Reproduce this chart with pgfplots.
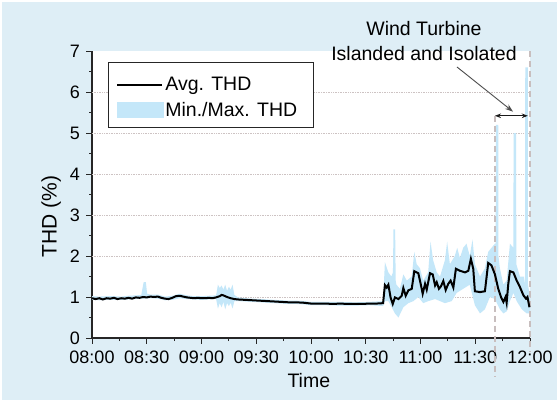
\documentclass[border=0pt]{standalone}
\usepackage{fontspec}
\setmainfont{Liberation Sans}
\usepackage{pgfplots}
\pgfplotsset{compat=1.18}
\usetikzlibrary{arrows.meta}
\definecolor{bgblue}{RGB}{222,238,246}
\definecolor{bandblue}{RGB}{196,231,249}
\definecolor{gridc}{RGB}{205,195,195}
\definecolor{dashc}{RGB}{200,190,190}
\newcommand\tickfont{\fontsize{18bp}{20bp}\selectfont}
\newcommand\labfont{\fontsize{19.5bp}{22bp}\selectfont}

% band polygon: max envelope (increasing t), then min envelope (decreasing t)
\pgfplotstableread{
t v
0 1.02
4 1.01
8 1.02
12 1.02
16 1.01
20 1.03
24 1.04
27 1.05
28.3 1.36
29.5 1.36
30.2 1.08
32 1.06
36 1.06
40 1.01
44 1.03
48 1.08
52 1.04
56 1.02
60 1.02
64 1.03
68 1.04
69 1.30
70 1.22
71 1.28
72 1.18
73 1.30
74 1.15
75 1.25
76 1.18
77 1.30
78 1.05
80 0.99
84 0.97
88 0.96
92 0.95
96 0.94
100 0.93
104 0.92
108 0.91
112 0.91
116 0.90
120 0.88
128 0.88
136 0.88
144 0.87
152 0.88
159.5 0.90
160.5 1.85
162.4 1.60
164 1.50
164.9 1.60
165.2 2.65
166.1 2.65
166.4 1.40
166.8 1.30
168.7 1.20
170.6 1.55
172.5 1.40
175.2 1.50
176.6 2.10
177.9 1.80
179.7 1.70
181.5 1.40
184.2 1.60
185.5 2.35
186.9 1.90
188.9 1.60
190.7 1.50
193.4 1.90
194.6 2.35
196.1 1.80
198.8 2.00
200.1 2.20
201.6 1.95
203.4 2.20
205.2 2.30
207.0 2.00
208.5 2.40
209.8 1.80
212.6 1.50
215.3 1.70
217.1 2.10
218.9 2.20
220.8 2.30
221.2 2.30
221.3 5.20
222.6 5.20
222.7 2.00
223.5 1.70
225.4 1.30
227.2 1.40
229.0 2.30
230.9 2.20
231.0 5.00
232.4 5.00
232.5 1.80
234.5 1.50
236.7 1.50
237.3 1.30
237.4 6.60
238.8 6.60
238.9 1.30
240 1.00
240 0.60
238.2 0.60
235.5 0.70
232.7 0.90
230.9 1.10
229.0 0.90
227.2 0.65
225.4 0.60
223.5 0.70
220.8 0.95
218.0 1.00
215.3 0.70
212.6 0.60
209.8 0.80
207.0 1.30
203.4 1.20
199.8 1.10
197.1 0.90
193.4 0.85
190.7 0.90
188.0 0.95
184.3 0.90
181.5 0.85
178.8 1.00
176.1 0.90
173.3 0.85
170.6 0.75
167.9 0.50
166.0 0.60
164.2 0.75
162.4 0.90
160.5 0.90
159.5 0.78
152 0.80
144 0.79
136 0.79
128 0.80
120 0.80
116 0.82
112 0.83
108 0.83
104 0.84
100 0.85
96 0.86
92 0.87
88 0.88
84 0.89
80 0.90
78 0.90
77 0.72
76 0.86
75 0.78
74 0.85
73 0.70
72 0.88
71 0.75
70 0.85
69 0.72
68 0.95
64 0.94
60 0.93
56 0.94
52 0.95
48 0.97
44 0.93
40 0.92
36 0.96
32 0.97
28 0.96
24 0.95
20 0.94
16 0.93
12 0.93
8 0.93
4 0.92
0 0.93
}\banddata

\pgfplotstableread{
t v
0 0.97
2 0.95
4 0.97
6 0.94
8 0.97
10 0.96
12 0.98
14 0.95
16 0.97
18 0.96
20 0.98
22 0.96
24 0.99
26 0.98
28 1.00
30 0.99
32 1.01
34 1.00
36 1.01
38 0.98
40 0.96
42 0.95
44 0.98
46 1.02
48 1.03
50 1.01
52 0.99
54 0.98
56 0.97
58 0.98
60 0.97
62 0.97
64 0.98
66 0.97
68 0.99
70 1.02
71 1.05
72 1.04
74 1.00
76 0.97
78 0.95
80 0.94
84 0.93
88 0.92
92 0.91
96 0.90
100 0.89
104 0.88
108 0.87
112 0.87
116 0.86
120 0.84
124 0.84
128 0.84
132 0.83
136 0.84
140 0.83
144 0.83
148 0.83
152 0.84
156 0.84
159.5 0.85
160.5 1.29
161.5 1.23
162.4 1.30
163.6 0.99
164.8 0.83
166.0 0.99
167.9 0.95
169.7 1.03
170.6 1.22
171.9 1.03
173.3 1.16
175.2 1.20
176.6 1.63
178.8 1.58
180.1 1.32
181.2 1.08
182.5 1.32
183.4 1.18
185.2 1.58
186.7 1.55
188.0 1.28
188.9 1.36
190.1 1.20
191.2 1.26
192.5 1.39
193.8 1.17
195.2 1.32
196.5 1.40
198.0 1.23
199.4 1.69
201.6 1.64
204.4 1.60
206.2 1.64
207.6 1.93
208.9 1.69
209.8 1.14
212.6 1.12
215.3 1.14
217.1 1.83
218.9 1.77
220.8 1.55
222.6 1.20
224.1 1.00
225.4 0.88
226.6 1.00
227.2 0.86
228.1 1.32
229.0 1.63
230.9 1.60
232.7 1.40
234.5 1.24
236.4 1.04
237.8 0.96
238.6 1.00
239.7 0.75
}\avgdata

\begin{document}
\begin{tikzpicture}
\fill[white] (0,0) rectangle (557bp,400bp);
\fill[bgblue] (2bp,0) rectangle (557bp,398bp);
\begin{axis}[
  at={(92bp,62bp)}, anchor=south west,
  scale only axis, width=438bp, height=287bp,
  xmin=0, xmax=240, ymin=0, ymax=7,
  axis x line*=bottom, axis y line*=left,
  axis line style={line width=1.1bp, black!85},
  axis background/.style={fill=white},
  xtick={0,30,...,240},
  xticklabels={08:00,08:30,09:00,09:30,10:00,10:30,11:00,11:30,12:00},
  minor xtick={15,45,...,225},
  ytick={0,1,...,7},
  minor ytick={0.5,1.5,...,6.5},
  tick align=outside,
  major tick length=5.5bp, minor tick length=3bp,
  every tick/.style={black!85, line width=1bp},
  tick label style={font=\tickfont},
  /pgf/number format/assume math mode=true,
  xticklabel style={anchor=north, inner sep=0bp, yshift=-7.5bp},
  yticklabel style={anchor=east, inner sep=0bp, xshift=-6.5bp},
  xlabel={Time}, ylabel={THD (\%)},
  xlabel style={font=\labfont, at={(axis description cs:0.495,-0.174)}, anchor=base, inner sep=0bp},
  ylabel style={font=\fontsize{21bp}{24bp}\selectfont, at={(axis description cs:-0.0806,0.4233)}, anchor=base, inner sep=0bp},
  clip=false,
  legend style={at={(axis description cs:0.0365,0.9617)}, anchor=north west,
    draw=none, fill=none, font=\labfont,
    inner xsep=8bp, inner ysep=13bp, row sep=6bp,
    /tikz/every even column/.append style={column sep=5bp}},
  legend cell align=left,
]
\pgfplotsinvokeforeach{1,...,6}{
  \draw[gridc, densely dotted, line width=0.7bp] (axis cs:0,#1) -- (axis cs:240,#1);
}
\addplot[fill=bandblue, draw=none, forget plot] table[x=t,y=v] {\banddata} -- cycle;

\draw[dashc, dash pattern=on 6bp off 4bp, line width=1.1bp] (axis cs:220.8,5.42) -- (axis cs:220.8,-0.95);
\draw[dashc, dash pattern=on 6bp off 4bp, line width=1.1bp] (axis cs:240,7.0) -- (axis cs:240,-0.35);

\addplot[black, line width=2bp, forget plot] table[x=t,y=v] {\avgdata};

% legend frame
\draw[black!85, line width=1bp, fill=white] (axis cs:8.77,6.73) rectangle (axis cs:121.1,5.146);

\addlegendimage{legend image code/.code={\draw[black, line width=2bp] (0bp,0bp) -- (45bp,0bp);}}
\addlegendentry{Avg. THD}
\addlegendimage{legend image code/.code={\fill[bandblue] (0bp,-7bp) rectangle (46bp,7.5bp);}}
\addlegendentry{Min./Max. THD}

\draw[black!70, line width=0.9bp, -{Stealth[length=8bp,width=5.5bp]}] (axis cs:200,6.61) -- (axis cs:230.7,5.52);
\draw[black!90, line width=1bp, {Stealth[length=6bp,width=4.5bp]}-{Stealth[length=6bp,width=4.5bp]}] (axis cs:220.8,5.42) -- (axis cs:238.8,5.42);

\node[font=\labfont, anchor=base, inner sep=0bp] at (axis cs:181.9,7.39) {Wind Turbine};
\node[font=\labfont, anchor=base, inner sep=0bp] at (axis cs:181.9,6.76) {Islanded and Isolated};
\end{axis}
\end{tikzpicture}
\end{document}
